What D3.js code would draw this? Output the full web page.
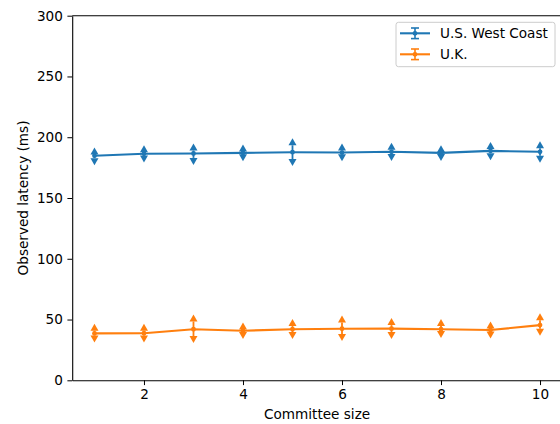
<!DOCTYPE html>
<html>
<head>
<meta charset="utf-8">
<script src="https://cdn.jsdelivr.net/npm/d3@7"></script>
<style>
  html, body { margin: 0; padding: 0; background: #fff; }
  svg { display: block; font-family: "DejaVu Sans", sans-serif; }
</style>
</head>
<body>
<svg id="chart" width="560" height="424"></svg>
<script>
// Committee sizes on the x axis
const committee = [1, 2, 3, 4, 5, 6, 7, 8, 9, 10];

// U.S. West Coast: mean latency and the lower / upper end of each error bar (ms)
const westMean  = [184.8, 186.4, 186.6, 187.1, 187.7, 187.4, 188.0, 187.1, 188.8, 188.0];
const westLow   = [182.8, 185.0, 183.0, 186.1, 182.0, 186.1, 186.3, 186.3, 186.9, 184.7];
const westHigh  = [185.8, 187.7, 189.1, 188.3, 193.4, 189.1, 189.6, 187.7, 190.4, 191.0];

// U.K.: mean latency and error bar ends (ms)
const ukMean = [38.6, 38.7, 42.0, 40.8, 42.0, 42.4, 42.5, 42.0, 41.4, 45.4];
const ukLow  = [36.9, 36.9, 36.4, 39.7, 39.7, 38.0, 39.7, 40.5, 40.2, 42.4];
const ukHigh = [40.8, 40.8, 48.4, 41.8, 44.6, 47.6, 45.4, 44.6, 42.7, 49.5];

const xTicks = [2, 4, 6, 8, 10];
const yTicks = [0, 50, 100, 150, 200, 250, 300];
const seriesNames = ["U.S. West Coast", "U.K."];
const seriesColors = ["#1f77b4", "#ff7f0e"];

const series = [
  { name: seriesNames[0], color: seriesColors[0], mean: westMean, low: westLow, high: westHigh },
  { name: seriesNames[1], color: seriesColors[1], mean: ukMean, low: ukLow, high: ukHigh }
];

const svg = d3.select("#chart");
const fontSize = 13.6;

const x = d3.scaleLinear().domain([0.55, 10.45]).range([72.2, 562.3]);
const y = d3.scaleLinear().domain([0, 300]).range([380.3, 15.7]);

// Axes
const xAxis = d3.axisBottom(x).tickValues(xTicks).tickFormat(d3.format("d"))
  .tickSizeInner(4.8).tickSizeOuter(0).tickPadding(4.5);
const yAxis = d3.axisLeft(y).tickValues(yTicks).tickFormat(d3.format("d"))
  .tickSizeInner(4.8).tickSizeOuter(0).tickPadding(4.5);

const gx = svg.append("g").attr("transform", `translate(0,${y(0)})`).call(xAxis);
const gy = svg.append("g").attr("transform", `translate(${x.range()[0]},0)`).call(yAxis);
[gx, gy].forEach(g => {
  g.selectAll("text").attr("font-size", fontSize).attr("fill", "#000")
    .attr("font-family", "DejaVu Sans");
  g.selectAll("line").attr("stroke", "#000").attr("stroke-width", 1);
  g.select(".domain").attr("stroke", "#000").attr("stroke-width", 1.1);
});

// Top spine
svg.append("line")
  .attr("x1", x.range()[0]).attr("x2", x.range()[1])
  .attr("y1", y(300)).attr("y2", y(300))
  .attr("stroke", "#000").attr("stroke-width", 1.1);

// Axis labels
svg.append("text")
  .attr("x", (x(0.55) + 560) / 2 + 1).attr("y", 418.5)
  .attr("text-anchor", "middle").attr("font-size", fontSize)
  .text("Committee size");
svg.append("text")
  .attr("transform", `translate(28,${(y(0) + y(300)) / 2}) rotate(-90)`)
  .attr("text-anchor", "middle").attr("font-size", fontSize)
  .text("Observed latency (ms)");

// Triangle caps: tip pointing away from the mean, base at the bar end
const tri = 4, triH = 7;
function capUp(px, py) {
  return `M${px - tri},${py} L${px + tri},${py} L${px},${py - triH} Z`;
}
function capDown(px, py) {
  return `M${px - tri},${py} L${px + tri},${py} L${px},${py + triH} Z`;
}

const plot = svg.append("g");
series.forEach(s => {
  const g = plot.append("g");
  const pts = committee.map((c, i) => ({ c, m: s.mean[i], lo: s.low[i], hi: s.high[i] }));

  // error bars
  g.selectAll("line.err").data(pts).join("line")
    .attr("x1", d => x(d.c)).attr("x2", d => x(d.c))
    .attr("y1", d => y(d.lo)).attr("y2", d => y(d.hi))
    .attr("stroke", s.color).attr("stroke-width", 1.8);

  // mean line
  g.append("path").datum(pts)
    .attr("d", d3.line().x(d => x(d.c)).y(d => y(d.m)))
    .attr("fill", "none").attr("stroke", s.color).attr("stroke-width", 2.1);

  // caps
  g.selectAll("path.up").data(pts).join("path")
    .attr("d", d => capUp(x(d.c), y(d.hi))).attr("fill", s.color);
  g.selectAll("path.down").data(pts).join("path")
    .attr("d", d => capDown(x(d.c), y(d.lo))).attr("fill", s.color);

  // mean markers
  g.selectAll("circle").data(pts).join("circle")
    .attr("cx", d => x(d.c)).attr("cy", d => y(d.m)).attr("r", 2.4)
    .attr("fill", s.color);
});

// Legend
const legend = svg.append("g");
legend.append("rect")
  .attr("x", 396).attr("y", 22.3).attr("width", 159).attr("height", 44.4)
  .attr("rx", 2.5).attr("fill", "#fff").attr("fill-opacity", 0.8)
  .attr("stroke", "#cccccc").attr("stroke-width", 1);
series.forEach((s, i) => {
  const cy = 33.3 + i * 21;
  const lg = legend.append("g");
  lg.append("line").attr("x1", 400).attr("x2", 430).attr("y1", cy).attr("y2", cy)
    .attr("stroke", s.color).attr("stroke-width", 2.1);
  lg.append("line").attr("x1", 415).attr("x2", 415).attr("y1", cy - 5.3).attr("y2", cy + 5.3)
    .attr("stroke", s.color).attr("stroke-width", 1.6);
  [cy - 5.3, cy + 5.3].forEach(yy => {
    lg.append("line").attr("x1", 411).attr("x2", 419).attr("y1", yy).attr("y2", yy)
      .attr("stroke", s.color).attr("stroke-width", 1.6);
  });
  lg.append("circle").attr("cx", 415).attr("cy", cy).attr("r", 2.4).attr("fill", s.color);
  lg.append("text").attr("x", 440).attr("y", cy).attr("dy", "0.36em")
    .attr("font-size", fontSize).text(s.name);
});
</script>
</body>
</html>
